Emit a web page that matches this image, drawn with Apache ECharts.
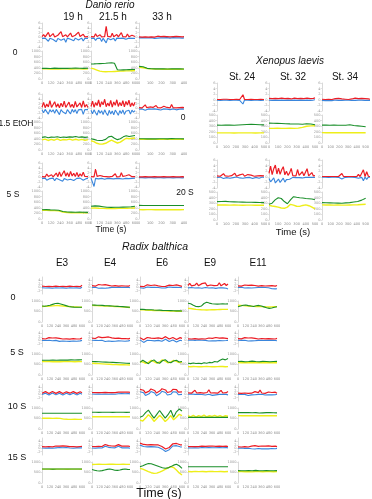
<!DOCTYPE html>
<html><head><meta charset="utf-8">
<script src="https://cdn.jsdelivr.net/npm/echarts@6/dist/echarts.min.js"></script>
<style>html,body{margin:0;padding:0;background:#fff}#c{width:372px;height:499px}</style>
</head><body><div id="c"></div>
<script>
// ---------- Danio rerio (columns 19 h, 21.5 h, 33 h; rows 0, 1.5 EtOH, 5 S) ----------
const d19_c0_r=[0.3,1.2,0.2,0.4,2.1,0.3,0.5,1.6,0.2,0.3,0.9,0.4,2.4,0.3,0.6,1.1,0.2,0.4,1.8,0.3,0.5,0.9,0.2,2.2,0.4,0.3,1.3,0.2,0.5,0.3];
const d19_c0_b=[-0.4,-1.1,-0.3,-0.5,-1.6,-0.4,-0.3,-0.9,-0.5,-1.8,-0.4,-0.3,-1.2,-0.4,-0.6,-2.0,-0.3,-0.5,-0.8,-0.4,-1.4,-0.3,-0.5,-1.1,-0.4,-0.3,-1.5,-0.4,-0.3,-0.4];
const d19_c0_g=[380,385,375,390,380,385,378,382,390,385,380,384];
const d19_c0_y=[360,365,358,362,355,360,366,358,362,360,356,362];
const d21_c0_r=[0.3,0.8,0.2,1.5,0.4,0.3,1.1,0.2,0.6,0.3,4.6,0.4,0.9,0.2,1.7,0.3,0.5,1.2,0.2,0.4,2.0,0.3,0.6,0.2,1.4,0.3,0.5,0.9,0.2,0.4];
const d21_c0_b=[-0.4,-0.9,-0.3,-1.3,-0.4,-0.6,-0.3,-1.7,-0.4,-0.5,-2.3,-0.4,-0.3,-1.0,-0.5,-0.4,-1.5,-0.3,-0.6,-0.4,-1.2,-0.3,-0.5,-0.8,-0.4,-0.3,-1.1,-0.4,-0.5,-0.4];
const d21_c0_g=[536,540,545,550,555,560,570,578,560,330,320,325,330,335,338,340];
const d21_c0_y=[390,360,320,280,265,260,262,265,270,275,280,285,290,290,295,300];
const d33_c0_r=[0.2,0.5,0.1,0.3,0.2,0.6,0.1,0.3,0.2,0.4,0.1,0.3,0.5,0.2,0.3,0.1,0.4,0.2,0.3,0.6,0.2,0.1,0.3,0.2,0.4,0.2,0.3,0.1,0.2,0.3];
const d33_c0_b=[-0.2,-0.4,-0.1,-0.3,-0.2,-0.5,-0.2,-0.3,-0.1,-0.2,-0.4,-0.2,-0.3,-0.1,-0.2,-0.3,-0.2,-0.4,-0.1,-0.2,-0.3,-0.2,-0.1,-0.3,-0.2,-0.4,-0.2,-0.1,-0.3,-0.2];
const d33_c0_g=[450,440,380,365,360,362,360,358,360,362,360,358];
const d33_c0_y=[420,400,370,360,355,352,350,352,350,348,350,352];

const d19_et_r=[0.5,2.5,0.3,1.8,0.6,3.2,0.4,1.2,2.8,0.5,1.9,0.3,2.2,0.7,3.0,0.4,1.5,2.6,0.5,1.7,0.3,2.9,0.6,1.4,2.3,0.4,3.1,0.5,1.6,0.4];
const d19_et_b=[-0.6,-1.8,-0.4,-1.2,-2.4,-0.5,-1.5,-0.6,-2.0,-0.4,-1.1,-2.6,-0.5,-1.4,-0.6,-2.2,-0.5,-1.0,-2.3,-0.4,-1.6,-0.5,-2.1,-0.6,-1.3,-0.4,-2.5,-0.5,-1.2,-0.5];
const d19_et_g=[450,470,440,460,455,475,445,465,450,470,460,480,455,470,450,465];
const d19_et_y=[360,390,340,380,350,395,345,375,360,390,350,385,355,380,345,370];
const d21_et_r=[0.8,3.0,0.5,2.4,1.2,3.5,0.6,2.8,1.5,3.8,0.7,2.2,1.0,3.3,0.5,2.7,1.3,3.6,0.8,2.5,1.1,3.2,0.6,2.9,1.4,3.4,0.7,2.3,1.0,2.6];
const d21_et_b=[-0.8,-2.2,-0.6,-1.8,-2.8,-0.7,-2.0,-1.0,-2.6,-0.6,-1.9,-3.0,-0.8,-2.3,-1.1,-2.7,-0.7,-1.7,-2.9,-0.9,-2.1,-0.6,-2.5,-1.2,-2.0,-0.8,-2.4,-0.7,-1.6,-0.9];
const d21_et_g=[400,380,350,340,345,380,470,490,420,370,400,470,510,480,500,515];
const d21_et_y=[330,300,240,210,215,240,300,350,300,250,280,350,420,400,420,430];
const d33_et_r=[0.3,0.8,0.2,0.4,1.5,0.3,0.2,0.6,0.3,0.4,0.2,1.2,0.3,0.5,0.2,0.3,0.9,0.2,0.4,0.3,0.2,1.6,0.3,0.4,0.2,0.7,0.3,0.2,0.4,0.3];
const d33_et_b=[-0.3,-0.5,-0.2,-0.4,-0.8,-0.3,-0.2,-0.4,-0.3,-0.6,-0.2,-0.3,-0.4,-0.2,-0.7,-0.3,-0.2,-0.4,-0.3,-0.2,-0.5,-0.3,-0.2,-0.3,-0.6,-0.2,-0.3,-0.4,-0.2,-0.3];
const d33_et_g=[400,402,398,400,396,400,404,398,410,402,400,398];
const d33_et_y=[385,388,382,386,380,385,388,383,390,386,384,382];

const d19_s5_r=[0.3,0.9,0.2,1.4,0.4,0.3,1.1,0.2,0.5,1.8,0.3,2.3,0.4,1.6,2.8,0.5,1.9,0.3,2.5,0.6,1.7,0.4,2.1,0.3,1.5,0.5,2.2,0.4,0.9,0.3];
const d19_s5_b=[-0.4,-0.7,-0.3,-1.2,-0.4,-0.5,-0.9,-0.3,-1.4,-0.4,-0.6,-1.0,-0.3,-1.6,-0.5,-0.4,-1.1,-0.3,-0.8,-0.4,-1.3,-0.5,-0.4,-0.9,-0.3,-0.6,-1.2,-0.4,-0.5,-0.4];
const d19_s5_g=[330,335,325,320,310,270,250,245,240,245,240,238];
const d19_s5_y=[310,315,305,300,290,250,230,225,220,228,222,218];
const d21_s5_r=[0.3,0.5,0.2,3.5,0.4,0.3,0.8,0.2,0.4,1.2,0.3,0.6,0.2,1.0,0.4,0.3,1.5,0.2,0.5,0.3,2.0,0.4,0.3,0.7,0.2,1.1,0.4,0.3,0.5,0.3];
const d21_s5_b=[-0.3,-0.5,-3.8,-0.4,-0.3,-0.6,-0.2,-0.4,-0.3,-0.8,-0.2,-0.4,-0.3,-0.5,-0.2,-0.6,-0.3,-0.4,-0.2,-0.5,-0.3,-0.7,-0.2,-0.4,-0.3,-0.5,-0.2,-0.4,-0.3,-0.3];
const d21_s5_g=[455,470,460,440,420,415,420,418,425,430,440,455];
const d21_s5_y=[390,395,385,380,375,372,375,378,380,385,388,392];
const d33_s5_r=[0.2,0.3,0.2,0.2,0.3,0.2,0.2,0.3,0.2,0.2,0.3,0.2,0.2,0.3,0.2,0.2,0.3,0.2,0.2,0.3,0.2,0.2,0.3,0.2,0.2,0.3,0.2,0.2,0.3,0.2];
const d33_s5_b=[-0.1,-0.2,-0.1,-0.1,-0.2,-0.1,-0.1,-0.2,-0.1,-0.1,-0.2,-0.1,-0.1,-0.2,-0.1,-0.1,-0.2,-0.1,-0.1,-0.2,-0.1,-0.1,-0.2,-0.1,-0.1,-0.2,-0.1,-0.1,-0.2,-0.1];
const d33_s5_g=[485,482,484,480,482,484,480,482,481,483,480,482];
const d33_s5_y=[335,333,336,334,332,335,333,334,332,335,333,334];

// ---------- Xenopus laevis (columns St. 24, St. 32, St. 34; rows 0, 20 S) ----------
const x24_c0_r=[0.1,0.2,0.1,0.1,0.2,0.1,0.2,0.1,0.1,0.2,0.1,0.1,0.2,0.1,0.1,0.2,1.8,0.1,0.2,0.1,0.1,0.2,0.1,0.1,0.2,0.1,0.1,0.2,0.1,0.1];
const x24_c0_b=[-0.1,-0.1,-0.2,-0.1,-0.1,-0.2,-0.1,-0.1,-0.2,-0.1,-0.1,-0.2,-0.1,-0.1,-0.2,-0.1,-1.5,-0.1,-0.2,-0.1,-0.1,-0.2,-0.1,-0.1,-0.2,-0.1,-0.1,-0.2,-0.1,-0.1];
const x24_c0_g=[320,318,322,320,318,322,326,330,334,330,326,324];
const x24_c0_y=[180,180,181,180,179,180,181,180,180,179,180,181];
const x32_c0_r=[0.5,0.9,0.4,0.8,0.5,1.0,0.4,0.7,0.6,0.9,0.4,0.8,0.5,1.0,0.3,0.7,0.6,0.9,0.4,0.8,0.5,0.9,0.4,0.7,0.6,1.0,0.4,0.8,0.5,0.7];
const x32_c0_b=[-0.1,0.1,-0.2,0.0,-0.1,0.1,-0.2,0.0,-0.1,0.1,-0.2,0.0,-0.1,0.1,-0.2,0.0,-0.1,0.1,-0.2,0.0,-0.1,0.1,-0.2,0.0,-0.1,0.1,-0.2,0.0,-0.1,0.0];
const x32_c0_g=[355,352,350,348,345,342,340,338,336,345,340,325];
const x32_c0_y=[262,262,263,262,262,263,262,265,280,300,305,308];
const x34_c0_r=[0.2,0.5,0.1,0.4,0.2,0.6,0.1,0.3,0.4,0.2,0.5,0.1,0.3,0.6,0.2,0.4,0.1,0.5,0.3,0.2,0.6,0.1,0.4,0.3,0.5,0.2,0.4,0.1,0.3,0.2];
const x34_c0_b=[-0.2,-0.1,-0.3,-0.1,-0.2,-0.1,-0.3,-0.2,-0.1,-0.3,-0.2,-0.1,-0.2,-0.3,-0.1,-0.2,-0.1,-0.3,-0.2,-0.1,-0.2,-0.3,-0.1,-0.2,-0.1,-0.3,-0.2,-0.1,-0.2,-0.2];
const x34_c0_g=[320,320,318,320,318,316,318,325,312,305,298,290];
const x34_c0_y=[185,184,185,184,184,185,184,184,185,184,183,184];

const x24_s20_r=[0.3,0.8,0.2,0.5,1.1,0.3,0.6,0.2,0.9,0.4,0.3,1.3,0.2,0.5,0.7,0.3,1.0,0.2,0.4,0.8,0.3,0.6,1.2,0.2,0.5,0.3,0.9,0.4,0.2,0.3];
const x24_s20_b=[-0.2,-0.4,-0.1,-0.3,-0.6,-0.2,-0.3,-0.1,-0.5,-0.2,-0.3,-0.7,-0.1,-0.2,-0.4,-0.2,-0.5,-0.1,-0.3,-0.4,-0.2,-0.3,-0.6,-0.1,-0.2,-0.3,-0.5,-0.2,-0.1,-0.2];
const x24_s20_g=[328,330,332,326,324,322,320,318,316,314,312,310];
const x24_s20_y=[268,270,268,266,268,266,264,265,266,264,265,264];
const x32_s20_r=[1.2,3.8,0.8,2.9,4.2,1.0,3.1,0.9,2.5,3.6,0.7,2.0,0.5,1.4,3.0,0.4,0.8,0.3,2.6,0.5,0.3,1.8,0.4,0.6,2.9,0.3,0.5,1.5,0.3,0.4];
const x32_s20_b=[-0.6,-1.8,-1.2,-0.4,-2.2,-1.5,-0.8,-2.0,-1.3,-0.5,-1.9,-1.0,-0.4,-0.9,-0.3,-0.2,-0.4,-0.3,-0.2,-0.3,-0.2,-0.4,-0.3,-0.2,-0.3,-0.2,-0.3,-0.2,-0.3,-0.2];
const x32_s20_g=[280,300,360,398,384,330,290,360,416,405,398,392,385,380,375,362];
const x32_s20_y=[262,250,240,230,215,209,230,280,265,245,243,260,270,255,230,200];
const x34_s20_r=[0.1,0.2,0.1,0.3,0.1,0.2,0.1,0.4,0.1,0.2,0.1,0.2,1.2,0.1,0.2,0.1,0.3,0.1,0.2,0.1,0.2,0.1,0.9,0.1,0.2,2.5,0.1,1.8,0.2,0.1];
const x34_s20_b=[-0.1,-0.2,-0.1,-0.1,-0.2,-0.1,-0.1,-0.2,-0.1,-0.1,-0.2,-0.1,-0.8,-0.1,-0.2,-0.1,-0.1,-0.2,-0.1,-0.1,-0.2,-0.1,-0.5,-0.1,-0.2,-1.4,-0.1,-0.9,-0.1,-0.1];
const x34_s20_g=[310,308,306,304,302,300,305,310,320,330,355,390];
const x34_s20_y=[270,268,268,266,268,266,266,268,270,272,276,280];

// ---------- Radix balthica (columns E3, E4, E6, E9, E11; rows 0, 5 S, 10 S, 15 S) ----------
const re3_c0_r=[0.6,1.3,0.4,1.1,0.5,1.4,0.3,1.0,0.6,1.3,0.4,1.2,0.5,1.4,0.3,1.1,0.6,1.3,0.4,1.0,0.5,1.4,0.3,1.2];
const re3_c0_b=[-0.3,0.3,-0.5,0.1,-0.4,0.2,-0.6,0.0,-0.3,0.3,-0.5,0.1,-0.4,0.2,-0.6,0.0,-0.3,0.3,-0.5,0.1,-0.4,0.2,-0.6,0.0];
const re3_c0_g=[760,750,770,800,840,880,890,860,820,780,740,720,710,705,700,700];
const re3_c0_y=[740,745,750,760,770,780,785,770,760,750,740,730,720,715,710,705];
const re4_c0_r=[0.9,1.5,0.6,1.2,1.6,0.7,1.3,0.8,1.5,0.6,1.1,1.4,0.7,1.3,0.9,1.5,0.6,1.2,0.8,1.4,0.7,1.1,0.6,1.0];
const re4_c0_b=[-0.1,-0.5,0.0,-0.4,-0.6,-0.1,-0.5,-0.2,-0.6,0.0,-0.4,-0.5,-0.1,-0.5,-0.2,-0.6,0.0,-0.4,-0.2,-0.5,-0.1,-0.4,0.0,-0.3];
const re4_c0_g=[810,805,800,795,790,780,775,770,760,750,745,740,730,720,710,700];
const re4_c0_y=[790,785,780,775,770,765,760,755,745,740,735,725,720,710,700,690];
const re6_c0_r=[0.5,1.2,0.3,0.9,1.4,0.4,1.0,0.6,1.3,0.2,0.8,1.1,0.4,1.3,0.5,0.9,1.2,0.3,1.0,0.6,1.4,0.4,0.8,0.5];
const re6_c0_b=[-0.3,0.0,-0.6,-0.2,0.1,-0.5,-0.1,-0.4,0.0,-0.7,-0.2,0.0,-0.5,-0.1,-0.4,-0.2,0.1,-0.6,-0.1,-0.4,0.0,-0.5,-0.2,-0.3];
const re6_c0_g=[600,610,590,580,585,570,560,565,555,550,545,540,535,530,530,525];
const re6_c0_y=[580,575,570,560,555,550,545,540,535,530,525,520,520,515,510,510];
const re9_c0_r=[1.0,2.2,0.8,1.9,1.2,2.4,0.9,1.7,2.1,1.0,2.5,0.8,1.8,1.3,2.3,0.9,2.0,1.1,2.6,0.8,1.6,2.2,1.0,1.9];
const re9_c0_b=[-0.4,-1.1,-0.2,-0.9,-0.5,-1.2,-0.3,-1.0,-0.6,-1.3,-0.2,-0.8,-0.5,-1.1,-0.3,-1.0,-0.7,-1.2,-0.3,-0.9,-0.4,-1.1,-0.6,-1.0];
const re9_c0_g=[890,870,800,740,730,760,880,940,900,870,860,850,860,870,860,865];
const re9_c0_y=[650,640,620,600,590,580,575,570,575,580,585,590,595,600,600,600];
const re11_c0_r=[0.8,1.2,0.6,1.0,1.3,0.7,1.1,0.5,1.2,0.8,1.0,1.4,0.6,1.1,0.9,1.3,0.7,1.2,0.8,1.5,0.9,1.1,0.6,1.0];
const re11_c0_b=[-0.1,-0.4,0.0,-0.3,-0.5,-0.1,-0.4,-0.2,-0.5,-0.1,-0.3,-0.6,-0.2,-0.4,-0.1,-0.5,-0.2,-0.7,-0.3,-0.8,-0.9,-0.7,-1.0,-0.9];
const re11_c0_g=[730,760,800,810,780,760,740,770,790,760,720,680,650,670,700,730];
const re11_c0_y=[800,790,780,770,760,750,745,740,735,730,725,720,715,720,725,730];

const re3_s5_r=[0.9,1.4,0.7,1.2,1.5,0.8,1.3,0.6,1.4,0.9,1.1,1.5,0.7,1.3,0.8,1.4,0.6,1.2,0.9,1.5,0.7,1.1,0.8,1.3];
const re3_s5_b=[-0.1,-0.6,-0.2,-0.7,0.0,-0.5,-0.3,-0.8,-0.1,-0.4,-0.7,0.0,-0.5,-0.2,-0.6,-0.1,-0.7,-0.3,-0.5,0.0,-0.6,-0.2,-0.4,-0.1];
const re3_s5_g=[700,705,700,710,705,710,715,710,720,715,720,725];
const re3_s5_y=[640,635,640,630,635,630,635,640,635,630,640,635];
const re4_s5_r=[1.2,1.8,1.0,1.6,2.0,1.1,1.5,0.9,1.7,1.3,1.9,1.0,1.4,1.8,1.1,1.6,1.2,1.5,0.9,1.3,1.0,1.4,0.8,1.1];
const re4_s5_b=[0.0,-0.5,-0.1,-0.7,-0.2,-0.6,0.0,-0.4,-0.8,-0.1,-0.5,-0.3,-0.7,-0.1,-0.6,-0.2,-0.4,0.0,-0.5,-0.2,-0.6,-0.1,-0.4,-0.2];
const re4_s5_g=[640,635,630,620,615,610,600,590,580,570,560,555];
const re4_s5_y=[560,550,540,530,520,510,500,495,490,485,480,476];
const re6_s5_r=[1.5,1.0,0.2,0.8,1.6,2.0,1.2,0.5,1.1,1.8,1.4,0.6,0.9,1.7,2.1,1.3,0.7,1.0,1.6,1.2,0.4,0.9,1.5,1.1];
const re6_s5_b=[0.2,-0.4,-1.3,-0.7,0.0,0.5,-0.2,-1.0,-0.4,0.3,-0.1,-0.9,-0.6,0.1,0.6,-0.1,-0.8,-0.5,0.1,-0.3,-1.1,-0.6,0.0,-0.3];
const re6_s5_g=[600,700,620,540,650,720,600,560,680,730,620,580,670,700,620,640];
const re6_s5_y=[650,620,560,600,700,640,560,620,720,660,580,620,700,650,590,620];
const re9_s5_r=[0.8,1.2,0.7,1.3,0.9,1.1,0.6,1.4,0.8,1.2,0.7,1.0,1.3,0.8,1.1,0.9,1.6,0.7,1.2,0.9,1.4,0.8,1.1,0.9];
const re9_s5_b=[0.0,-0.3,0.1,-0.4,-0.1,-0.2,0.1,-0.3,0.0,-0.4,-0.1,-0.2,-0.5,0.0,-0.3,-0.1,-0.4,0.0,-0.2,-0.1,-0.3,0.0,-0.2,-0.1];
const re9_s5_g=[560,540,570,550,560,540,580,560,600,580,640,620,700,760,720,790];
const re9_s5_y=[400,395,405,400,390,395,400,410,400,395,390,400,410,405,395,400];
const re11_s5_r=[0.9,1.4,0.8,1.2,1.5,0.7,1.3,0.9,1.4,0.8,1.1,1.6,0.7,1.2,1.0,1.4,0.8,1.3,0.9,1.5,0.8,1.2,0.7,1.1];
const re11_s5_b=[0.0,-0.4,-0.1,-0.6,0.0,-0.3,-0.5,-0.1,-0.4,0.0,-0.3,-0.6,-0.1,-0.4,0.0,-0.5,-0.2,-0.3,-0.1,-0.5,0.0,-0.4,-0.2,-0.3];
const re11_s5_g=[640,650,630,640,660,640,630,650,640,630,640,650];
const re11_s5_y=[590,585,580,590,585,580,590,585,580,585,590,580];

const re3_s10_r=[0.6,1.3,1.5,0.8,0.4,1.1,1.6,1.0,0.5,0.9,1.5,1.2,0.4,0.8,1.4,1.3,0.6,0.7,1.5,1.1,0.5,1.0,1.4,0.9];
const re3_s10_b=[-0.1,0.4,0.6,0.0,-0.5,0.2,0.7,0.1,-0.4,0.0,0.6,0.3,-0.5,-0.1,0.5,0.4,-0.3,-0.2,0.6,0.2,-0.4,0.1,0.5,0.0];
const re3_s10_g=[750,752,748,750,752,750,748,750,752,750,748,750];
const re3_s10_y=[510,512,510,508,510,505,470,462,460,462,460,458];
const re4_s10_r=[1.0,1.3,0.9,1.2,1.0,1.4,0.9,1.2,1.1,1.3,0.9,1.2,1.0,1.4,0.9,1.1,1.2,1.0,1.3,0.9,1.2,1.0,1.3,1.1];
const re4_s10_b=[0.1,0.4,0.0,0.3,0.1,0.4,0.0,0.2,0.1,0.4,0.0,0.3,0.1,0.4,0.0,0.2,0.3,0.1,0.4,0.0,0.3,0.1,0.4,0.2];
const re4_s10_g=[795,796,794,795,796,795,794,795,796,795,794,795];
const re4_s10_y=[585,588,586,584,586,588,585,586,584,586,588,585];
const re6_s10_r=[2.8,3.4,2.3,0.8,0.5,1.8,3.1,3.5,2.2,0.7,0.6,2.0,3.2,3.6,2.5,1.0,0.4,1.6,2.9,3.5,2.7,1.2,0.5,1.4];
const re6_s10_b=[1.4,2.0,0.8,-0.8,-1.3,0.2,1.6,2.0,0.7,-0.9,-1.2,0.4,1.7,2.1,1.0,-0.5,-1.4,0.0,1.4,2.0,1.2,-0.3,-1.2,-0.1];
const re6_s10_g=[560,620,780,900,700,520,700,880,700,520,680,890,560,820,950,860];
const re6_s10_y=[420,380,520,680,560,360,500,650,520,360,480,640,440,560,700,640];
const re9_s10_r=[0.8,1.9,0.6,1.4,2.3,0.7,1.2,0.9,2.0,0.6,1.5,1.0,2.6,0.7,1.3,0.8,1.8,0.6,1.1,2.2,0.7,1.4,0.9,1.6];
const re9_s10_b=[0.0,-0.6,0.1,-1.0,-0.1,-0.4,0.0,-0.8,-0.2,0.1,-0.5,-1.2,0.0,-0.3,-0.7,0.0,-0.4,-0.9,-0.1,-0.3,0.0,-0.6,-0.1,-0.4];
const re9_s10_g=[555,557,555,553,555,557,555,553,555,557,555,553];
const re9_s10_y=[640,580,650,570,640,590,660,580,630,600,650,590,640,580,630,610];
const re11_s10_r=[0.6,1.0,0.5,1.4,0.7,0.9,0.5,1.2,0.6,0.8,1.5,0.6,0.9,2.4,0.7,1.1,0.5,0.9,1.3,0.6,1.0,0.7,1.2,0.6];
const re11_s10_b=[-0.1,-0.4,0.0,-0.6,-0.1,-0.3,-0.8,-0.1,-0.4,0.0,-0.3,-0.7,-0.1,-0.4,0.0,-0.2,-0.5,-0.1,-0.3,0.0,-0.4,-0.1,-0.3,0.0];
const re11_s10_g=[780,782,785,780,775,778,760,770,778,780,775,770];
const re11_s10_y=[635,630,635,632,630,635,632,630,635,632,630,628];

const re3_s15_r=[0.9,1.3,0.8,1.2,1.0,1.4,0.8,1.1,1.3,0.9,1.2,1.0,1.4,0.8,1.2,1.1,0.9,1.3,1.0,1.2,0.8,1.3,1.0,1.1];
const re3_s15_b=[0.1,0.4,0.0,0.3,0.2,0.4,0.0,0.3,0.2,0.1,0.4,0.1,0.3,0.0,0.4,0.2,0.1,0.3,0.0,0.4,0.2,0.1,0.3,0.2];
const re3_s15_g=[665,668,665,662,665,668,666,664,666,668,665,664];
const re3_s15_y=[660,662,660,658,660,662,660,658,660,662,660,658];
const re4_s15_r=[1.0,1.3,0.9,1.2,1.1,1.4,1.0,1.6,2.2,2.0,1.5,1.1,1.3,1.0,1.2,1.8,2.1,1.6,1.2,1.0,1.3,1.1,1.2,1.0];
const re4_s15_b=[0.1,0.4,0.0,0.3,0.2,0.5,0.1,0.7,1.2,1.0,0.5,0.1,0.3,0.0,0.2,0.8,1.1,0.6,0.2,0.0,0.3,0.1,0.2,0.0];
const re4_s15_g=[640,610,580,570,590,620,650,667,640,610,600,620,650,665,650,640];
const re4_s15_y=[880,885,890,888,885,890,892,888,885,890,888,885];
const re6_s15_r=[3.0,2.8,2.2,1.9,2.0,1.8,2.1,1.9,2.0,1.7,1.9,1.5,1.0,0.2,-0.5,-0.3,0.4,1.5,2.6,3.0,2.8,2.2,2.0,1.9];
const re6_s15_b=[1.8,1.5,1.0,0.7,0.8,0.6,0.9,0.6,0.8,0.5,0.6,0.2,-0.4,-1.2,-1.9,-1.7,-0.9,0.2,1.3,1.8,1.5,1.0,0.8,0.7];
const re6_s15_g=[770,820,880,930,920,870,820,770,730,700,720,780,850,890,820,700];
const re6_s15_y=[700,660,600,540,490,460,470,520,580,650,720,776,740,620,480,380];
const re9_s15_r=[1.0,1.2,0.9,1.1,1.0,1.3,0.9,1.1,1.2,1.0,1.1,0.9,1.2,1.0,1.3,0.9,1.1,1.0,1.2,0.9,1.1,1.0,1.2,1.0];
const re9_s15_b=[0.2,0.4,0.1,0.3,0.2,0.4,0.1,0.3,0.4,0.2,0.3,0.1,0.4,0.2,0.3,0.1,0.3,0.2,0.4,0.1,0.3,0.2,0.4,0.2];
const re9_s15_g=[775,777,775,773,775,777,775,773,775,777,775,773];
const re9_s15_y=[545,535,555,540,550,535,555,545,540,550,535,545];
const re11_s15_r=[0.8,1.2,0.7,1.1,0.9,1.4,0.7,1.0,1.2,0.8,1.5,0.7,1.1,0.9,1.3,0.8,1.2,0.7,1.4,0.9,1.1,0.8,1.2,0.9];
const re11_s15_b=[0.0,-0.3,0.1,-0.2,-0.1,-0.4,0.0,-0.2,-0.3,0.0,-0.5,0.1,-0.2,-0.1,-0.4,0.0,-0.3,0.1,-0.4,-0.1,-0.2,0.0,-0.3,-0.1];
const re11_s15_g=[590,585,580,590,585,600,580,585,590,580,585,590];
const re11_s15_y=[540,545,535,540,530,545,540,535,540,545,535,540];

// ---------- labels ----------
const danioCols=['19 h','21.5 h','33 h'];
const danioRows=['0','1.5 EtOH','5 S'];
const xenoCols=['St. 24','St. 32','St. 34'];
const xenoRows=['0','20 S'];
const radixCols=['E3','E4','E6','E9','E11'];
const radixRows=['0','5 S','10 S','15 S'];

// panel table: [group, column, row, red, blue, green, yellow]
const PANELS=[
 ['d',0,0,d19_c0_r,d19_c0_b,d19_c0_g,d19_c0_y],['d',1,0,d21_c0_r,d21_c0_b,d21_c0_g,d21_c0_y],['d',2,0,d33_c0_r,d33_c0_b,d33_c0_g,d33_c0_y],
 ['d',0,1,d19_et_r,d19_et_b,d19_et_g,d19_et_y],['d',1,1,d21_et_r,d21_et_b,d21_et_g,d21_et_y],['d',2,1,d33_et_r,d33_et_b,d33_et_g,d33_et_y],
 ['d',0,2,d19_s5_r,d19_s5_b,d19_s5_g,d19_s5_y],['d',1,2,d21_s5_r,d21_s5_b,d21_s5_g,d21_s5_y],['d',2,2,d33_s5_r,d33_s5_b,d33_s5_g,d33_s5_y],
 ['x',0,0,x24_c0_r,x24_c0_b,x24_c0_g,x24_c0_y],['x',1,0,x32_c0_r,x32_c0_b,x32_c0_g,x32_c0_y],['x',2,0,x34_c0_r,x34_c0_b,x34_c0_g,x34_c0_y],
 ['x',0,1,x24_s20_r,x24_s20_b,x24_s20_g,x24_s20_y],['x',1,1,x32_s20_r,x32_s20_b,x32_s20_g,x32_s20_y],['x',2,1,x34_s20_r,x34_s20_b,x34_s20_g,x34_s20_y],
 ['r',0,0,re3_c0_r,re3_c0_b,re3_c0_g,re3_c0_y],['r',1,0,re4_c0_r,re4_c0_b,re4_c0_g,re4_c0_y],['r',2,0,re6_c0_r,re6_c0_b,re6_c0_g,re6_c0_y],['r',3,0,re9_c0_r,re9_c0_b,re9_c0_g,re9_c0_y],['r',4,0,re11_c0_r,re11_c0_b,re11_c0_g,re11_c0_y],
 ['r',0,1,re3_s5_r,re3_s5_b,re3_s5_g,re3_s5_y],['r',1,1,re4_s5_r,re4_s5_b,re4_s5_g,re4_s5_y],['r',2,1,re6_s5_r,re6_s5_b,re6_s5_g,re6_s5_y],['r',3,1,re9_s5_r,re9_s5_b,re9_s5_g,re9_s5_y],['r',4,1,re11_s5_r,re11_s5_b,re11_s5_g,re11_s5_y],
 ['r',0,2,re3_s10_r,re3_s10_b,re3_s10_g,re3_s10_y],['r',1,2,re4_s10_r,re4_s10_b,re4_s10_g,re4_s10_y],['r',2,2,re6_s10_r,re6_s10_b,re6_s10_g,re6_s10_y],['r',3,2,re9_s10_r,re9_s10_b,re9_s10_g,re9_s10_y],['r',4,2,re11_s10_r,re11_s10_b,re11_s10_g,re11_s10_y],
 ['r',0,3,re3_s15_r,re3_s15_b,re3_s15_g,re3_s15_y],['r',1,3,re4_s15_r,re4_s15_b,re4_s15_g,re4_s15_y],['r',2,3,re6_s15_r,re6_s15_b,re6_s15_g,re6_s15_y],['r',3,3,re9_s15_r,re9_s15_b,re9_s15_g,re9_s15_y],['r',4,3,re11_s15_r,re11_s15_b,re11_s15_g,re11_s15_y]
];

// ---------- layout (pixels) ----------
const LAYOUT={
 d:{x:[42,91,139],w:[46,44,45],top:[23,94,163],th:24,gap:4,bh:28,xmax:[600,600,400],xint:[120,120,100],bmax:1000,bint:200},
 x:{x:[217,269,322],w:[47,46,48],top:[83,160],th:28,gap:4,bh:28,xmax:[500,500,500],xint:[100,100,100],bmax:500,bint:100},
 r:{x:[42,92,140,188,238],w:[40,38,42,40,39],top:[277,330,384,438],th:17,gap:7,bh:21,xmax:[600,600,600,600,600],xint:[120,120,120,120,120],bmax:1000,bint:500}
};
const C={red:'#ec1d25',blue:'#3a86dc',green:'#1a8f2a',yellow:'#eeee1a',axis:'#cfcfcf',lab:'#9a9a9a'};

const grid=[],xAxis=[],yAxis=[],series=[];
function pts(arr,xmax){return arr.map((v,i)=>[i*xmax/(arr.length-1),v]);}
const plain=v=>String(v);
function yAx(gi,min,max,interval){
  return {gridIndex:gi,type:'value',min,max,interval,
    axisLine:{show:true,lineStyle:{color:C.axis,width:0.8}},
    axisTick:{show:true,length:1.5,lineStyle:{color:C.axis,width:0.6}},
    axisLabel:{fontSize:3.5,color:C.lab,margin:1.5,fontFamily:'DejaVu Sans',formatter:plain},
    splitLine:{show:false}};
}
function line(xi,data,color,z,w){
  return {type:'line',xAxisIndex:xi,yAxisIndex:xi,data,showSymbol:false,symbol:'none',silent:true,
    lineStyle:{color,width:w},z,animation:false};
}
PANELS.forEach(p=>{
  const L=LAYOUT[p[0]],c=p[1],r=p[2];
  const left=L.x[c],w=L.w[c],t=L.top[r],xmax=L.xmax[c];
  const gi=grid.length;
  grid.push({left,top:t,width:w,height:L.th,containLabel:false});
  grid.push({left,top:t+L.th+L.gap,width:w,height:L.bh,containLabel:false});
  xAxis.push({gridIndex:gi,type:'value',min:0,max:xmax,show:false});
  xAxis.push({gridIndex:gi+1,type:'value',min:0,max:xmax,interval:L.xint[c],
    axisLine:{show:false},axisTick:{show:false},splitLine:{show:false},
    axisLabel:{fontSize:3.5,color:'#8a8a8a',margin:2,fontFamily:'DejaVu Sans',formatter:plain}});
  yAxis.push(yAx(gi,-4,6,2));
  yAxis.push(yAx(gi+1,0,L.bmax,L.bint));
  series.push(line(gi,pts(p[4],xmax),C.blue,2,1.1));
  series.push(line(gi,pts(p[3],xmax),C.red,3,1.2));
  series.push(line(gi+1,pts(p[6],xmax),C.yellow,2,1.4));
  series.push(line(gi+1,pts(p[5],xmax),C.green,3,1.1));
});

const FF='Liberation Sans';
function txt(text,x,y,size,italic){
  return {type:'text',x,y,silent:true,style:{text,fill:'#111',font:(italic?'italic ':'')+size+'px "'+FF+'"',textAlign:'center',textVerticalAlign:'middle'}};
}
const graphic=[];
graphic.push(txt('Danio rerio',110,5,10,true));
[73,113,162].forEach((x,i)=>graphic.push(txt(danioCols[i],x,17,10)));
[[15,53],[16,124],[13,195]].forEach((q,i)=>graphic.push(txt(danioRows[i],q[0],q[1],8.5)));
graphic.push(txt('Time (s)',111,230,8.5));
graphic.push(txt('Xenopus laevis',290,61,10,true));
[242,293,345].forEach((x,i)=>graphic.push(txt(xenoCols[i],x,77,10)));
[[183,118],[185,193]].forEach((q,i)=>graphic.push(txt(xenoRows[i],q[0],q[1],8.5)));
graphic.push(txt('Time (s)',293,232,9.5));
graphic.push(txt('Radix balthica',155,247,10.5,true));
[62,110,162,210,258].forEach((x,i)=>graphic.push(txt(radixCols[i],x,263,10)));
[[13,298],[17,353],[17,407],[17,458]].forEach((q,i)=>graphic.push(txt(radixRows[i],q[0],q[1],9)));
graphic.push(txt('Time (s)',159,494,12.5));

const chart=echarts.init(document.getElementById('c'),null,{renderer:'canvas'});
chart.setOption({backgroundColor:'#fff',animation:false,grid,xAxis,yAxis,series,graphic});
</script></body></html>
